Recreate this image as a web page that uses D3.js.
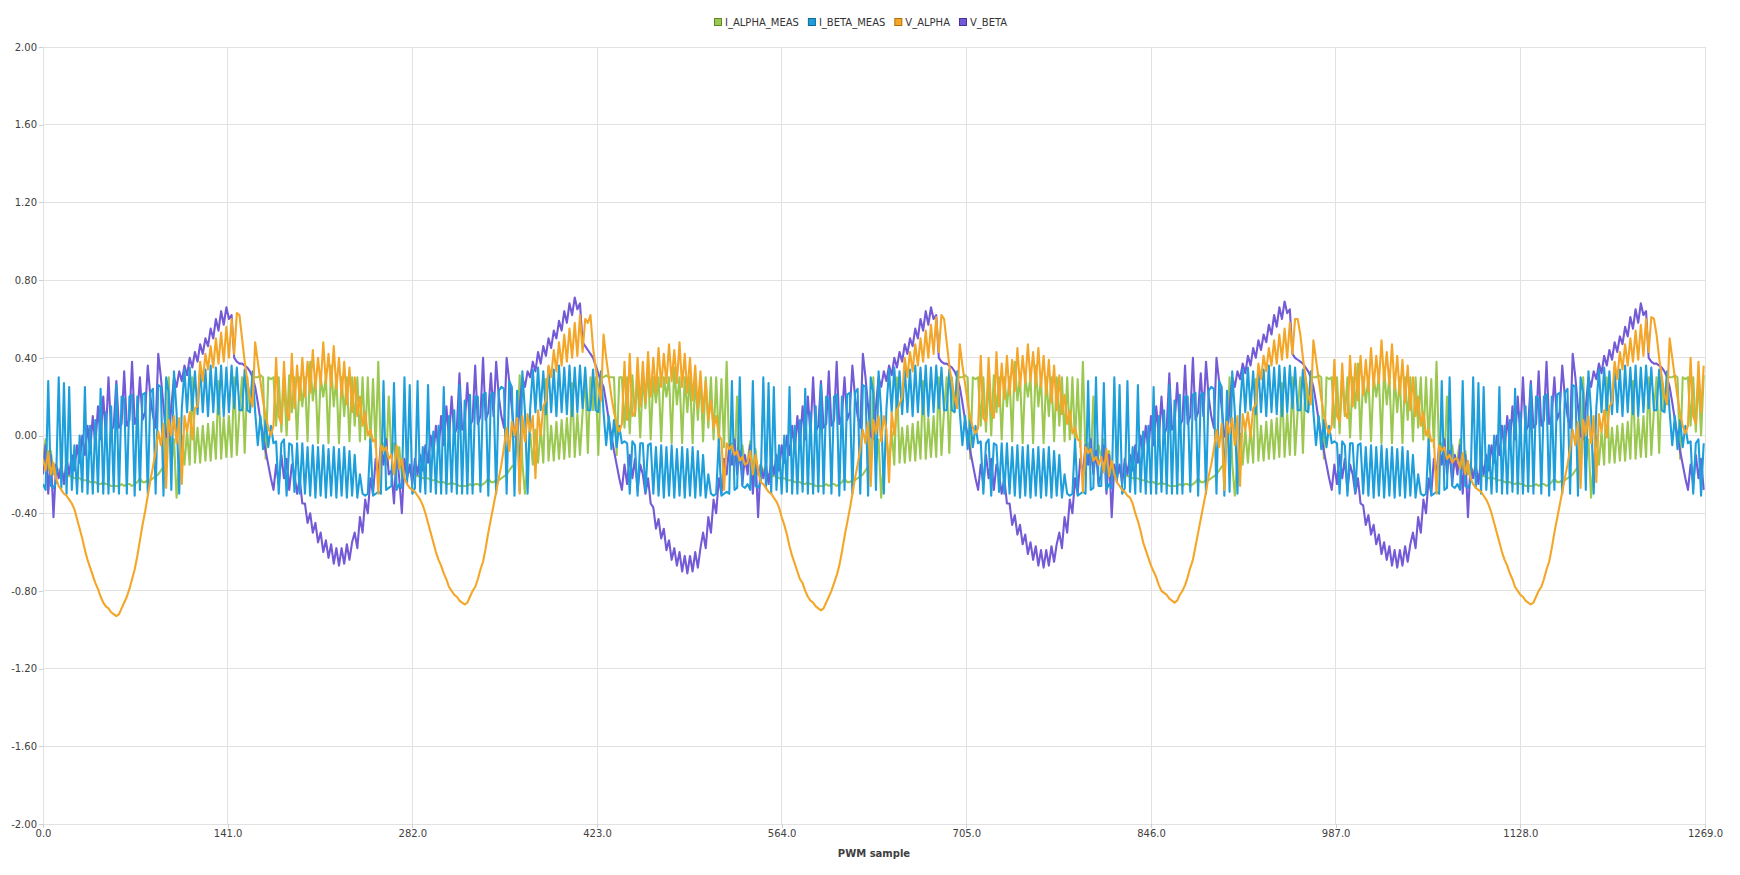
<!DOCTYPE html>
<html>
<head>
<meta charset="utf-8">
<script src="https://cdn.jsdelivr.net/npm/d3@7"></script>
<style>
  body { margin: 0; background: #fff; }
  svg { display: block; }
</style>
</head>
<body>
<svg id="chart" width="1740" height="875"></svg>
<script>
const seriesNames = ["I_ALPHA_MEAS", "I_BETA_MEAS", "V_ALPHA", "V_BETA"];
const seriesColors = ["#9bc850", "#1e9fdc", "#f4a628", "#745ad6"];
const legendBorders = ["#5f8a2a", "#10679a", "#b0700c", "#453296"];
const yTicks = [-2, -1.6, -1.2, -0.8, -0.4, 0, 0.4, 0.8, 1.2, 1.6, 2];
const xTicks = [0, 141, 282, 423, 564, 705, 846, 987, 1128, 1269];
const sampleStep = 2; // one stored value every 2 PWM samples

const iAlphaMeas = [
  // period 1
  -0.12,-0.02,-0.18,-0.08,-0.2,-0.16,
  -0.18,-0.19,-0.2,-0.2,-0.21,-0.21,-0.22,-0.22,-0.22,-0.23,-0.23,-0.23,-0.24,-0.24,-0.24,-0.25,-0.25,-0.24,-0.25,-0.25,
  -0.26,-0.26,-0.26,-0.26,-0.25,-0.26,-0.25,-0.25,-0.26,-0.25,-0.24,-0.22,-0.24,-0.24,-0.23,-0.23,-0.22,-0.21,-0.2,-0.18,-0.16,
  -0.16,0.3,-0.15,-0.02,-0.32,-0.14,
  0,-0.15,0.02,-0.15,0.3,-0.14,0.04,-0.14,0.05,-0.13,0.06,-0.13,0.07,-0.12,0.28,-0.12,0.09,-0.11,0.1,-0.11,
  0.3,-0.1,0.13,0.3,-0.09,0.3,0.12,0.3,
  0.3,0.3,0.31,0.3,-0.12,0.3,0.29,0.3,
  0.05,0.3,0.02,0.3,0,0.31,0.12,0.3,-0.02,0.3,0.15,0.3,-0.03,0.38,0.18,0.3,-0.04,0.3,0.2,0.3,-0.04,0.36,0.15,0.3,-0.04,0.3,0.1,0.3,-0.03,0.3,0.05,0.3,-0.03,0.3,
  -0.02,0.3,-0.04,0.29,-0.06,0.38,-0.1,-0.04,-0.15,0.2,
  // period 2
  -0.1,-0.04,-0.17,-0.06,-0.21,-0.15,
  -0.18,-0.19,-0.2,-0.2,-0.21,-0.21,-0.22,-0.22,-0.22,-0.23,-0.23,-0.23,-0.24,-0.24,-0.24,-0.25,-0.25,-0.24,-0.25,-0.25,
  -0.26,-0.26,-0.26,-0.26,-0.25,-0.26,-0.25,-0.25,-0.26,-0.25,-0.24,-0.22,-0.24,-0.24,-0.23,-0.23,-0.22,-0.21,-0.2,-0.18,-0.16,
  -0.15,-0.02,0.31,-0.14,-0.3,-0.13,
  0.01,-0.15,0.03,-0.14,0.04,-0.14,0.29,-0.13,0.05,-0.13,0.07,-0.12,0.08,-0.12,0.09,-0.11,0.27,-0.11,0.11,-0.1,
  0.12,0.3,-0.09,0.3,0.13,0.3,-0.1,0.3,
  0.3,0.31,0.3,0.3,0.3,-0.1,0.3,0.3,
  0.04,0.3,0.01,0.31,0.1,0.3,-0.01,0.3,0.14,0.37,-0.02,0.3,0.17,0.3,-0.03,0.3,0.2,0.3,-0.04,0.35,0.16,0.3,-0.04,0.3,0.12,0.3,-0.04,0.3,0.08,0.3,-0.03,0.3,0.04,0.3,
  -0.02,0.3,-0.04,0.29,-0.06,0.38,-0.1,-0.04,-0.15,0.2,-0.12,-0.05,-0.16,
  // period 3
  -0.13,-0.03,-0.19,-0.07,-0.2,-0.15,
  -0.18,-0.19,-0.2,-0.2,-0.21,-0.21,-0.22,-0.22,-0.22,-0.23,-0.23,-0.23,-0.24,-0.24,-0.24,-0.25,-0.25,-0.24,-0.25,-0.25,
  -0.26,-0.26,-0.26,-0.26,-0.25,-0.26,-0.25,-0.25,-0.26,-0.25,-0.24,-0.22,-0.24,-0.24,-0.23,-0.23,-0.22,-0.21,-0.2,-0.18,-0.16,
  -0.16,0.3,-0.15,-0.02,-0.32,-0.14,
  0,-0.15,0.02,-0.15,0.3,-0.14,0.04,-0.14,0.05,-0.13,0.06,-0.13,0.07,-0.12,0.28,-0.12,0.09,-0.11,0.1,-0.11,
  0.3,-0.1,0.13,0.3,-0.09,0.3,0.12,0.3,
  0.3,0.3,0.31,0.3,-0.12,0.3,0.29,0.3,
  0.05,0.3,0.02,0.3,0,0.31,0.12,0.3,-0.02,0.3,0.15,0.3,-0.03,0.38,0.18,0.3,-0.04,0.3,0.2,0.3,-0.04,0.36,0.15,0.3,-0.04,0.3,0.1,0.3,-0.03,0.3,0.05,0.3,-0.03,0.3,
  -0.02,0.3,-0.04,0.29,-0.06,0.38,-0.1,-0.04,-0.15,0.2,-0.12,-0.05,
  // period 4
  -0.12,-0.02,-0.18,-0.08,-0.2,-0.16,
  -0.18,-0.19,-0.2,-0.2,-0.21,-0.21,-0.22,-0.22,-0.22,-0.23,-0.23,-0.23,-0.24,-0.24,-0.24,-0.25,-0.25,-0.24,-0.25,-0.25,
  -0.26,-0.26,-0.26,-0.26,-0.25,-0.26,-0.25,-0.25,-0.26,-0.25,-0.24,-0.22,-0.24,-0.24,-0.23,-0.23,-0.22,-0.21,-0.2,-0.18,-0.16,
  -0.15,-0.02,0.3,-0.14,-0.31,-0.13,
  0.01,-0.15,0.03,-0.14,0.04,-0.14,0.29,-0.13,0.05,-0.13,0.07,-0.12,0.08,-0.12,0.09,-0.11,0.27,-0.11,0.11,-0.1,
  0.3,-0.1,0.13,0.3,-0.09,0.3,0.12,0.3,
  0.3,0.3,0.31,0.3,-0.12,0.3,0.29,0.3,
  0.04,0.3,0.01,0.31,0.1,0.3,-0.01,0.3,0.14,0.37,-0.02,0.3,0.17,0.3,-0.03,0.3,0.2,0.3,-0.04,0.35,0.16,0.3,-0.04,0.3,0.12,0.3,-0.04,0.3,0.08,0.3,-0.03,0.3,0.04,0.3,
  -0.02,0.3,-0.04,0.29,-0.06,0.38,-0.1,-0.04,-0.15,0.2,-0.12,-0.05,-0.16,
  // period 5
  -0.12,-0.02,-0.18,-0.08,-0.2,-0.16,
  -0.18,-0.19,-0.2,-0.2,-0.21,-0.21,-0.22,-0.22,-0.22,-0.23,-0.23,-0.23,-0.24,-0.24,-0.24,-0.25,-0.25,-0.24,-0.25,-0.25,
  -0.26,-0.26,-0.26,-0.26,-0.25,-0.26,-0.25,-0.25,-0.26,-0.25,-0.24,-0.22,-0.24,-0.24,-0.23,-0.23,-0.22,-0.21,-0.2,-0.18,-0.16,
  -0.16,0.3,-0.15,-0.02,-0.32,-0.14,
  0,-0.15,0.02,-0.15,0.3,-0.14,0.04,-0.14,0.05,-0.13,0.06,-0.13,0.07,-0.12,0.28,-0.12,0.09,-0.11,0.1,-0.11,
  0.3,-0.1,0.13,0.3,-0.09,0.3,0.12,0.3,
  0.3,0.3,0.31,0.3,-0.12,0.3,0.29,0.3,
  0.05,0.3,0.02,0.3,0,0.31
];

const iBetaMeas = [
  // period 1
  -0.25,-0.28,0.28,-0.26,-0.27,-0.24,0.3,
  -0.27,0.27,-0.3,0.25,-0.28,
  -0.05,-0.3,0,-0.29,0.25,-0.3,0.05,-0.3,0.08,-0.29,0.24,-0.3,0.12,-0.3,0.15,-0.29,0.26,-0.3,
  0.2,0.19,-0.3,0.2,0.21,-0.31,0.2,-0.28,0.21,0.22,-0.3,0.22,
  0.24,-0.3,0.26,0.25,-0.31,0.3,0.22,-0.28,
  0.33,0.12,-0.3,0.14,0.34,0.12,0.35,0.13,0.33,0.11,0.35,0.12,0.34,0.1,0.36,0.12,0.35,0.11,0.36,0.1,0.35,0.12,0.36,
  0.14,0.35,0.13,0.13,0.34,0.13,0.12,0.33,
  0.12,-0.05,0.1,-0.07,0.08,-0.06,0.05,-0.04,
  -0.03,-0.3,-0.04,-0.02,-0.31,-0.04,-0.05,-0.29,-0.04,-0.3,
  -0.04,-0.3,-0.06,-0.31,-0.05,-0.32,-0.06,-0.31,-0.05,-0.32,-0.07,-0.31,-0.06,-0.32,-0.07,-0.31,-0.06,-0.32,-0.08,-0.31,-0.1,-0.32,-0.2,
  -0.3,-0.31,-0.3,-0.02,-0.31,-0.3,-0.29,-0.3,
  0.28,-0.28,-0.27,
  // period 2
  -0.26,0.27,-0.28,-0.25,-0.27,0.3,-0.24,
  0.26,-0.3,-0.27,0.28,-0.29,
  -0.06,-0.3,0.26,-0.29,0.02,-0.3,0.05,-0.3,0.25,-0.3,0.1,-0.29,0.13,-0.3,0.26,-0.3,0.18,-0.3,
  0.21,-0.3,0.2,0.2,-0.29,0.21,0.22,-0.31,0.21,0.22,-0.3,0.23,
  0.25,0.24,-0.3,0.28,0.25,-0.31,0.23,-0.29,
  0.33,0.12,-0.3,0.14,0.34,0.12,0.35,0.13,0.33,0.11,0.35,0.12,0.34,0.1,0.36,0.12,0.35,0.11,0.36,0.1,0.35,0.12,0.36,
  0.14,0.35,0.13,0.13,0.34,0.13,0.12,0.33,
  0.12,-0.05,0.1,-0.07,0.08,-0.06,0.05,-0.04,
  -0.03,-0.04,-0.3,-0.03,-0.05,-0.31,-0.04,-0.04,-0.29,-0.05,
  -0.04,-0.3,-0.06,-0.31,-0.05,-0.32,-0.06,-0.31,-0.05,-0.32,-0.07,-0.31,-0.06,-0.32,-0.07,-0.31,-0.06,-0.32,-0.08,-0.31,-0.1,-0.32,-0.2,
  -0.3,-0.31,-0.3,-0.02,-0.31,-0.3,-0.29,-0.3,
  0.28,-0.28,-0.27,0.3,-0.26,-0.27,
  // period 3
  -0.25,-0.28,0.28,-0.26,-0.27,-0.24,0.3,
  -0.27,0.27,-0.3,0.25,-0.28,
  -0.05,-0.3,0,-0.29,0.25,-0.3,0.05,-0.3,0.08,-0.29,0.24,-0.3,0.12,-0.3,0.15,-0.29,0.26,-0.3,
  0.2,0.19,-0.3,0.2,0.21,-0.31,0.2,-0.28,0.21,0.22,-0.3,0.22,
  0.24,-0.3,0.26,0.25,-0.31,0.3,0.22,-0.28,
  0.33,0.12,-0.3,0.14,0.34,0.12,0.35,0.13,0.33,0.11,0.35,0.12,0.34,0.1,0.36,0.12,0.35,0.11,0.36,0.1,0.35,0.12,0.36,
  0.14,0.35,0.13,0.13,0.34,0.13,0.12,0.33,
  0.12,-0.05,0.1,-0.07,0.08,-0.06,0.05,-0.04,
  -0.03,-0.3,-0.04,-0.02,-0.31,-0.04,-0.05,-0.29,-0.04,-0.3,
  -0.04,-0.3,-0.06,-0.31,-0.05,-0.32,-0.06,-0.31,-0.05,-0.32,-0.07,-0.31,-0.06,-0.32,-0.07,-0.31,-0.06,-0.32,-0.08,-0.31,-0.1,-0.32,-0.2,
  -0.3,-0.31,-0.3,-0.02,-0.31,-0.3,-0.29,-0.3,
  0.28,-0.28,-0.27,0.3,-0.26,
  // period 4
  -0.26,0.27,-0.28,-0.25,-0.27,0.3,-0.24,
  0.26,-0.3,-0.27,0.28,-0.29,
  -0.06,-0.3,0.26,-0.29,0.02,-0.3,0.05,-0.3,0.25,-0.3,0.1,-0.29,0.13,-0.3,0.26,-0.3,0.18,-0.3,
  0.21,-0.3,0.2,0.2,-0.29,0.21,0.22,-0.31,0.21,0.22,-0.3,0.23,
  0.25,0.24,-0.3,0.28,0.25,-0.31,0.23,-0.29,
  0.33,0.12,-0.3,0.14,0.34,0.12,0.35,0.13,0.33,0.11,0.35,0.12,0.34,0.1,0.36,0.12,0.35,0.11,0.36,0.1,0.35,0.12,0.36,
  0.14,0.35,0.13,0.13,0.34,0.13,0.12,0.33,
  0.12,-0.05,0.1,-0.07,0.08,-0.06,0.05,-0.04,
  -0.03,-0.04,-0.3,-0.03,-0.05,-0.31,-0.04,-0.04,-0.29,-0.05,
  -0.04,-0.3,-0.06,-0.31,-0.05,-0.32,-0.06,-0.31,-0.05,-0.32,-0.07,-0.31,-0.06,-0.32,-0.07,-0.31,-0.06,-0.32,-0.08,-0.31,-0.1,-0.32,-0.2,
  -0.3,-0.31,-0.3,-0.02,-0.31,-0.3,-0.29,-0.3,
  0.28,-0.28,-0.27,0.3,-0.26,-0.27,
  // period 5
  -0.25,-0.28,0.28,-0.26,-0.27,-0.24,0.3,
  -0.27,0.27,-0.3,0.25,-0.28,
  -0.05,-0.3,0,-0.29,0.25,-0.3,0.05,-0.3,0.08,-0.29,0.24,-0.3,0.12,-0.3,0.15,-0.29,0.26,-0.3,
  0.2,0.19,-0.3,0.2,0.21,-0.31,0.2,-0.28,0.21,0.22,-0.3,0.22,
  0.24,-0.3,0.26,0.25,-0.31,0.3,0.22,-0.28,
  0.33,0.12,-0.3,0.14,0.34,0.12,0.35,0.13,0.33,0.11,0.35,0.12,0.34,0.1,0.36,0.12,0.35,0.11,0.36,0.1,0.35,0.12,0.36,
  0.14,0.35,0.13,0.13,0.34,0.13,0.12,0.33,
  0.12,-0.05,0.1,-0.07,0.08,-0.06,0.05,-0.04,
  -0.03,-0.3,-0.04,-0.02,-0.31,-0.04
];

const vAlpha = [
  // period 1
  -0.12,-0.18,-0.08,-0.2,-0.14,-0.22,
  -0.26,-0.28,-0.3,-0.31,-0.33,-0.35,-0.38,-0.43,-0.48,-0.53,
  -0.59,-0.64,-0.68,-0.72,-0.76,-0.79,-0.83,-0.86,-0.88,-0.89,
  -0.91,-0.92,-0.93,-0.92,-0.89,-0.86,-0.83,-0.79,-0.74,-0.69,
  -0.62,-0.54,-0.46,-0.39,-0.31,-0.23,-0.16,
  -0.08,0.02,-0.05,0.06,-0.27,0.08,0,0.1,-0.04,0.09,-0.25,0.1,0.02,0.12,-0.02,0.14,
  0.15,0.38,0.28,0.42,0.34,0.46,0.35,0.5,0.37,0.53,0.38,0.56,0.4,0.6,0.42,0.63,
  0.62,0.5,0.38,0.28,0.2,0.15,0.48,0.38,0.28,0.18,0.1,0.04,0,
  0.05,0.4,0.1,0.06,0.38,0.12,0.08,0.42,0.14,0.36,0.18,0.4,0.2,0.38,0.22,0.44,0.24,0.4,0.26,0.48,0.27,0.42,0.25,0.46,0.24,0.4,0.2,0.38,0.16,0.35,0.12,
  0.3,0.1,0.2,0.05,0.12,0,0.03,-0.03,-0.02,-0.3,-0.05,-0.08,-0.06,-0.12,
  // period 2
  -0.1,-0.2,-0.05,-0.17,-0.12,-0.22,
  -0.25,-0.27,-0.28,-0.29,-0.31,-0.33,-0.36,-0.4,-0.45,-0.5,
  -0.55,-0.6,-0.64,-0.67,-0.71,-0.74,-0.78,-0.8,-0.82,-0.83,
  -0.85,-0.86,-0.87,-0.86,-0.83,-0.8,-0.78,-0.74,-0.69,-0.65,
  -0.58,-0.5,-0.43,-0.36,-0.29,-0.22,-0.15,
  -0.06,0.04,-0.08,0.07,0,0.09,-0.3,0.1,-0.03,0.11,0.02,0.1,-0.22,0.13,0,0.15,
  0.18,0.36,0.3,0.44,0.33,0.48,0.36,0.52,0.38,0.55,0.4,0.58,0.41,0.62,0.43,0.6,
  0.58,0.62,0.45,0.35,0.25,0.18,0.52,0.4,0.3,0.2,0.12,0.06,0.02,
  0.06,0.38,0.08,0.42,0.1,0.12,0.4,0.15,0.38,0.17,0.43,0.2,0.4,0.22,0.45,0.25,0.42,0.27,0.47,0.28,0.44,0.27,0.48,0.25,0.42,0.22,0.4,0.18,0.36,0.14,0.33,
  0.12,0.28,0.08,0.18,0.04,0.1,0,-0.02,-0.28,-0.04,-0.07,-0.05,-0.1,-0.08,-0.13,-0.11,-0.15,
  // period 3
  -0.14,-0.08,-0.2,-0.1,-0.18,-0.24,
  -0.25,-0.27,-0.29,-0.3,-0.32,-0.34,-0.37,-0.42,-0.46,-0.51,
  -0.57,-0.62,-0.66,-0.7,-0.74,-0.76,-0.8,-0.83,-0.85,-0.86,
  -0.88,-0.89,-0.9,-0.89,-0.86,-0.83,-0.8,-0.76,-0.72,-0.67,
  -0.6,-0.52,-0.45,-0.38,-0.3,-0.22,-0.15,
  -0.07,0.03,-0.04,0.07,-0.26,0.08,0.01,0.1,-0.03,0.1,0.03,-0.24,0.12,0,0.13,0.16,
  0.2,0.4,0.3,0.43,0.33,0.47,0.36,0.5,0.38,0.54,0.4,0.57,0.42,0.61,0.43,0.62,
  0.6,0.48,0.36,0.27,0.2,0.14,0.47,0.36,0.27,0.17,0.09,0.04,0.01,
  0.04,0.41,0.09,0.07,0.4,0.13,0.09,0.43,0.15,0.37,0.19,0.41,0.21,0.39,0.23,0.45,0.25,0.41,0.27,0.47,0.28,0.43,0.26,0.45,0.25,0.41,0.21,0.39,0.17,0.36,0.13,
  0.31,0.11,0.21,0.06,0.13,0.01,0.04,-0.02,-0.03,-0.29,-0.06,-0.09,-0.07,-0.13,-0.11,-0.15,
  // period 4
  -0.11,-0.19,-0.07,-0.21,-0.13,-0.2,
  -0.24,-0.26,-0.28,-0.29,-0.31,-0.32,-0.35,-0.4,-0.44,-0.49,
  -0.55,-0.59,-0.63,-0.67,-0.7,-0.73,-0.77,-0.8,-0.81,-0.82,
  -0.84,-0.85,-0.86,-0.85,-0.82,-0.8,-0.77,-0.73,-0.68,-0.64,
  -0.57,-0.5,-0.43,-0.36,-0.29,-0.21,-0.15,
  -0.07,0.03,-0.06,0.06,-0.28,0.07,0.01,0.09,-0.05,0.1,-0.26,0.11,0.03,0.12,-0.01,0.14,
  0.16,0.37,0.29,0.41,0.33,0.45,0.36,0.49,0.37,0.52,0.39,0.55,0.4,0.58,0.42,0.6,
  0.6,0.52,0.4,0.3,0.21,0.16,0.49,0.39,0.29,0.19,0.11,0.05,0.01,
  0.05,0.39,0.1,0.07,0.37,0.12,0.09,0.41,0.15,0.37,0.18,0.41,0.21,0.39,0.23,0.45,0.25,0.41,0.27,0.49,0.28,0.43,0.26,0.47,0.24,0.41,0.21,0.39,0.17,0.36,0.13,
  0.3,0.1,0.2,0.05,0.12,0,0.03,-0.03,-0.02,-0.3,-0.05,-0.08,-0.06,-0.12,-0.1,-0.14,-0.12,
  // period 5
  -0.12,-0.17,-0.09,-0.2,-0.13,-0.22,
  -0.25,-0.27,-0.28,-0.29,-0.31,-0.33,-0.36,-0.4,-0.45,-0.5,
  -0.55,-0.6,-0.64,-0.67,-0.71,-0.74,-0.78,-0.8,-0.82,-0.83,
  -0.85,-0.86,-0.87,-0.86,-0.83,-0.8,-0.78,-0.74,-0.69,-0.65,
  -0.58,-0.5,-0.43,-0.36,-0.29,-0.22,-0.15,
  -0.07,0.03,-0.05,0.07,-0.27,0.08,0,0.1,-0.04,0.1,-0.24,0.11,0.02,0.13,-0.01,0.15,
  0.17,0.38,0.29,0.43,0.34,0.47,0.36,0.5,0.38,0.54,0.39,0.57,0.41,0.6,0.43,0.61,
  0.6,0.52,0.4,0.3,0.21,0.16,0.5,0.4,0.3,0.2,0.11,0.05,0.01,
  0.05,0.4,0.1,0.06,0.38,0.12,0.36
];

const vBeta = [
  // period 1
  -0.2,-0.05,-0.3,-0.1,-0.42,-0.15,
  -0.22,-0.15,-0.25,-0.12,-0.2,-0.1,-0.18,-0.05,-0.14,0,-0.1,0.05,-0.08,0.1,-0.05,0.15,-0.02,0.2,
  0,0.3,0.02,0.05,0.28,0.04,0.06,0.33,0.05,0.08,0.38,0.06,0.1,0.3,0.08,0.12,0.36,0.2,0.1,0.04,0.42,0.3,0.15,
  0,-0.02,0.15,0.3,0.25,0.33,
  0.28,0.36,0.31,0.4,0.35,0.43,0.38,0.47,0.42,0.5,0.46,0.55,0.5,0.6,0.54,0.64,0.57,0.66,
  0.6,0.62,
  0.4,0.38,0.37,0.37,0.36,0.35,0.33,0.3,
  0.25,0.17,0.08,0,-0.08,-0.15,-0.22,-0.28,
  -0.15,-0.25,-0.1,-0.22,-0.12,-0.28,-0.15,-0.2,-0.3,-0.22,-0.35,
  -0.35,-0.45,-0.4,-0.5,-0.45,-0.55,-0.5,-0.6,-0.54,-0.63,-0.56,-0.66,-0.58,-0.67,-0.58,-0.66,-0.56,-0.64,-0.55,
  -0.5,-0.58,-0.42,-0.5,-0.33,-0.4,-0.22,-0.3,-0.12,-0.2,
  -0.05,-0.15,-0.02,-0.2,
  // period 2
  -0.18,-0.35,-0.08,-0.22,-0.4,-0.12,
  -0.22,-0.15,-0.25,-0.12,-0.2,-0.1,-0.18,-0.05,-0.14,0,-0.1,0.05,-0.08,0.1,-0.05,0.15,-0.02,0.2,
  0,0.04,0.32,0.03,0.06,0.27,0.05,0.08,0.36,0.06,0.1,0.4,0.08,0.12,0.32,0.1,0.38,0.2,0.1,0.04,0.4,0.28,0.14,
  0,-0.02,0.15,0.3,0.25,0.33,
  0.3,0.38,0.33,0.43,0.37,0.46,0.41,0.5,0.45,0.54,0.5,0.59,0.54,0.64,0.58,0.68,0.62,0.71,
  0.65,0.68,
  0.48,0.46,0.44,0.42,0.4,0.36,0.32,0.28,
  0.25,0.17,0.08,0,-0.08,-0.15,-0.22,-0.28,
  -0.15,-0.25,-0.1,-0.22,-0.12,-0.28,-0.15,-0.2,-0.3,-0.22,-0.35,
  -0.37,-0.48,-0.43,-0.53,-0.48,-0.59,-0.54,-0.64,-0.58,-0.67,-0.6,-0.7,-0.62,-0.71,-0.62,-0.7,-0.6,-0.68,-0.58,
  -0.5,-0.58,-0.42,-0.5,-0.33,-0.4,-0.22,-0.3,-0.12,-0.2,
  -0.05,-0.15,-0.02,-0.2,-0.08,-0.25,-0.1,
  // period 3
  -0.2,-0.05,-0.3,-0.1,-0.42,-0.15,
  -0.22,-0.15,-0.25,-0.12,-0.2,-0.1,-0.18,-0.05,-0.14,0,-0.1,0.05,-0.08,0.1,-0.05,0.15,-0.02,0.2,
  0,0.3,0.02,0.05,0.28,0.04,0.06,0.33,0.05,0.08,0.38,0.06,0.1,0.3,0.08,0.12,0.36,0.2,0.1,0.04,0.42,0.3,0.15,
  0,-0.02,0.15,0.3,0.25,0.33,
  0.28,0.36,0.31,0.4,0.35,0.43,0.38,0.47,0.42,0.5,0.46,0.55,0.5,0.6,0.54,0.64,0.57,0.66,
  0.6,0.62,
  0.4,0.38,0.37,0.37,0.36,0.35,0.33,0.3,
  0.25,0.17,0.08,0,-0.08,-0.15,-0.22,-0.28,
  -0.15,-0.25,-0.1,-0.22,-0.12,-0.28,-0.15,-0.2,-0.3,-0.22,-0.35,
  -0.35,-0.46,-0.41,-0.51,-0.46,-0.56,-0.51,-0.61,-0.55,-0.64,-0.57,-0.67,-0.59,-0.68,-0.59,-0.67,-0.57,-0.65,-0.56,
  -0.5,-0.58,-0.42,-0.5,-0.33,-0.4,-0.22,-0.3,-0.12,-0.2,
  -0.05,-0.15,-0.02,-0.2,-0.08,-0.25,
  // period 4
  -0.2,-0.05,-0.3,-0.1,-0.42,-0.15,
  -0.22,-0.15,-0.25,-0.12,-0.2,-0.1,-0.18,-0.05,-0.14,0,-0.1,0.05,-0.08,0.1,-0.05,0.15,-0.02,0.2,
  0,0.04,0.32,0.03,0.06,0.27,0.05,0.08,0.36,0.06,0.1,0.4,0.08,0.12,0.32,0.1,0.38,0.2,0.1,0.04,0.4,0.28,0.14,
  0,-0.02,0.15,0.3,0.25,0.33,
  0.29,0.37,0.32,0.41,0.36,0.45,0.4,0.49,0.44,0.52,0.48,0.57,0.52,0.62,0.56,0.66,0.6,0.69,
  0.63,0.65,
  0.42,0.4,0.39,0.38,0.37,0.35,0.33,0.3,
  0.25,0.17,0.08,0,-0.08,-0.15,-0.22,-0.28,
  -0.15,-0.25,-0.1,-0.22,-0.12,-0.28,-0.15,-0.2,-0.3,-0.22,-0.35,
  -0.36,-0.46,-0.41,-0.51,-0.46,-0.56,-0.51,-0.61,-0.55,-0.64,-0.57,-0.67,-0.59,-0.68,-0.59,-0.67,-0.57,-0.65,-0.56,
  -0.5,-0.58,-0.42,-0.5,-0.33,-0.4,-0.22,-0.3,-0.12,-0.2,
  -0.05,-0.15,-0.02,-0.2,-0.08,-0.25,-0.1,
  // period 5
  -0.2,-0.05,-0.3,-0.1,-0.42,-0.15,
  -0.22,-0.15,-0.25,-0.12,-0.2,-0.1,-0.18,-0.05,-0.14,0,-0.1,0.05,-0.08,0.1,-0.05,0.15,-0.02,0.2,
  0,0.3,0.02,0.05,0.28,0.04,0.06,0.33,0.05,0.08,0.38,0.06,0.1,0.3,0.08,0.12,0.36,0.2,0.1,0.04,0.42,0.3,0.15,
  0,-0.02,0.15,0.3,0.25,0.33,
  0.29,0.37,0.32,0.41,0.36,0.44,0.39,0.48,0.43,0.51,0.47,0.56,0.51,0.61,0.55,0.65,0.58,0.68,
  0.62,0.64,
  0.4,0.38,0.37,0.37,0.36,0.35,0.33,0.3,
  0.25,0.17,0.08,0,-0.08,-0.15,-0.22,-0.28,
  -0.15,-0.25,-0.1,-0.22,-0.12,-0.28
];

const seriesValues = [iAlphaMeas, iBetaMeas, vAlpha, vBeta];
const drawOrder = [0, 3, 1, 2];

const svg = d3.select("#chart");
const fontFamily = "'DejaVu Sans', Verdana, sans-serif";
const gridColor = "#e2e2e2";

const x = d3.scaleLinear().domain([0, 1269]).range([43, 1705]);
const y = d3.scaleLinear().domain([-2, 2]).range([824, 47]);

// grid
const grid = svg.append("g").attr("shape-rendering", "crispEdges");
grid.selectAll("line.h").data(yTicks).join("line")
  .attr("class", "h")
  .attr("x1", x(0)).attr("x2", x(1269))
  .attr("y1", d => y(d)).attr("y2", d => y(d))
  .attr("stroke", gridColor);
grid.selectAll("line.v").data(xTicks).join("line")
  .attr("class", "v")
  .attr("x1", d => x(d)).attr("x2", d => x(d))
  .attr("y1", y(-2)).attr("y2", y(2))
  .attr("stroke", gridColor);

// axes
const yAxis = svg.append("g")
  .attr("transform", `translate(${x(0)},0)`)
  .call(d3.axisLeft(y).tickValues(yTicks).tickFormat(d => d.toFixed(2)).tickSize(4).tickPadding(2));
yAxis.select(".domain").remove();

const xAxis = svg.append("g")
  .attr("transform", `translate(0,${y(-2)})`)
  .call(d3.axisBottom(x).tickValues(xTicks).tickFormat(d => d.toFixed(1)).tickSize(4).tickPadding(2));
xAxis.select(".domain").remove();

svg.selectAll(".tick line").attr("stroke", "#cfcfcf").attr("shape-rendering", "crispEdges");
svg.selectAll(".tick text")
  .attr("fill", "#404040")
  .style("font-family", fontFamily)
  .style("font-size", "10px");

svg.append("text")
  .attr("x", (x(0) + x(1269)) / 2)
  .attr("y", 857)
  .attr("text-anchor", "middle")
  .attr("fill", "#404040")
  .style("font-family", fontFamily)
  .style("font-size", "10px")
  .style("font-weight", "bold")
  .text("PWM sample");

// series lines
const line = d3.line()
  .x((d, i) => x(i * sampleStep))
  .y(d => y(d));

svg.append("defs").append("clipPath").attr("id", "plotClip")
  .append("rect")
  .attr("x", x(0)).attr("y", y(2))
  .attr("width", x(1269) - x(0)).attr("height", y(-2) - y(2));

const plot = svg.append("g").attr("clip-path", "url(#plotClip)");
drawOrder.forEach(k => {
  plot.append("path")
    .datum(seriesValues[k])
    .attr("d", line)
    .attr("fill", "none")
    .attr("stroke", seriesColors[k])
    .attr("stroke-width", 2.1)
    .attr("stroke-linejoin", "round");
});

// legend
const legend = svg.append("g").attr("transform", "translate(714,22)");
let cursor = 0;
seriesNames.forEach((name, k) => {
  const item = legend.append("g").attr("transform", `translate(${cursor},0)`);
  item.append("rect")
    .attr("x", 0.5).attr("y", -3.5)
    .attr("width", 7).attr("height", 7)
    .attr("fill", seriesColors[k])
    .attr("stroke", legendBorders[k]);
  const label = item.append("text")
    .attr("x", 11).attr("y", 3.5)
    .attr("fill", "#333")
    .style("font-family", fontFamily)
    .style("font-size", "10px")
    .text(name);
  cursor += 11 + label.node().getComputedTextLength() + 9;
});
</script>
</body>
</html>
